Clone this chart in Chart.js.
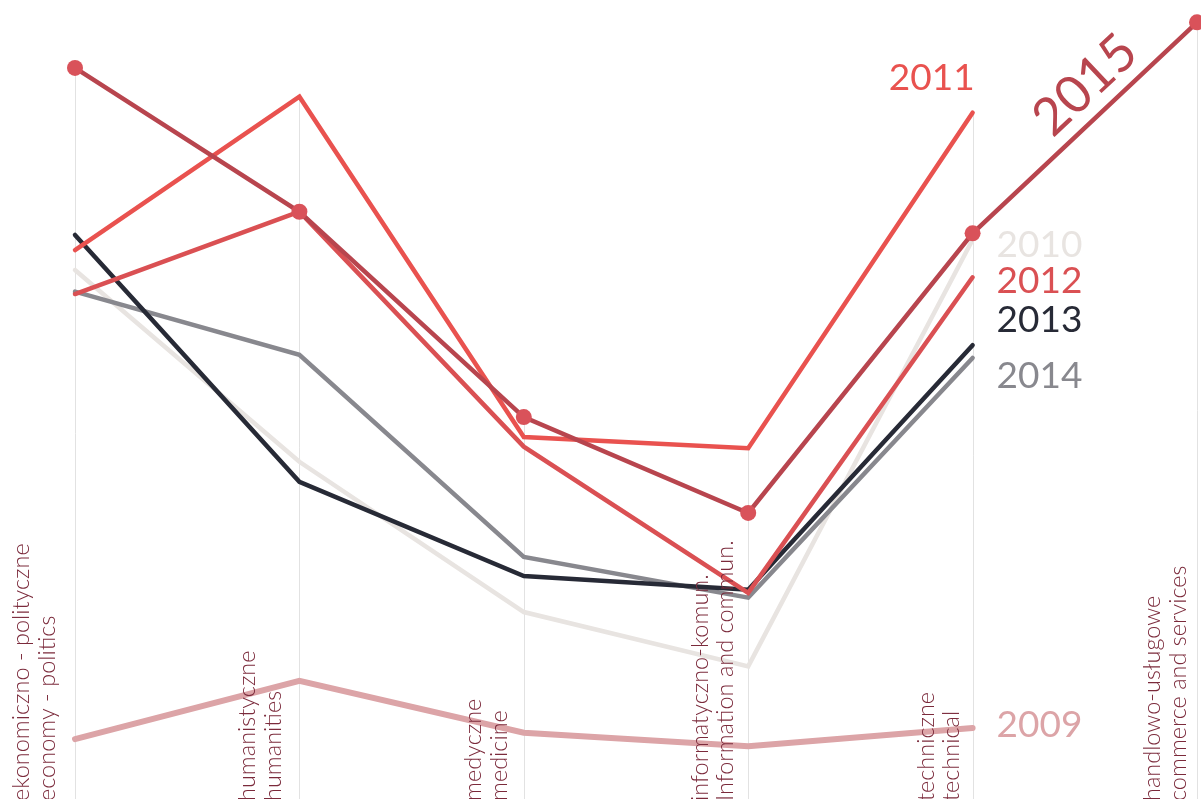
<!DOCTYPE html>
<html>
<head>
<meta charset="utf-8">
<script src="https://cdn.jsdelivr.net/npm/chart.js@4/dist/chart.umd.min.js"></script>
<style>
  html, body { margin: 0; padding: 0; background: #ffffff; overflow: hidden; }
  #wrap { width: 1201px; height: 799px; position: relative; }
</style>
</head>
<body>
<div id="wrap"><canvas id="c" width="1201" height="799"></canvas></div>
<script>
// Categories (Polish / English)
const categoriesPL = ["ekonomiczno - polityczne", "humanistyczne", "medyczne", "informatyczno-komun.", "techniczne", "handlowo-usługowe"];
const categoriesEN = ["economy - politics", "humanities", "medicine", "Information and commun.", "technical", "commerce and services"];

// Series values (relative scale 0-100)
const years = ["2015", "2011", "2012", "2013", "2014", "2010", "2009"];
const v2015 = [91.5, 73.5, 47.8, 35.8, 70.8, 97.2];
const v2011 = [68.7, 87.9, 45.3, 43.9, 85.9, null];
const v2012 = [63.2, 73.5, 44.1, 25.8, 65.3, null];
const v2013 = [70.6, 39.7, 27.9, 26.2, 56.8, null];
const v2014 = [63.5, 55.6, 30.3, 25.2, 55.2, null];
const v2010 = [66.2, 42.2, 23.4, 16.6, 70.0, null];
const v2009 = [7.5, 14.8, 8.3, 6.6, 8.9, null];

const colors = {
  "2015": "#b8454e", "2011": "#e9524f", "2012": "#da5053", "2013": "#272a36",
  "2014": "#88888e", "2010": "#e8e4e1", "2009": "#dca4a7"
};
const dotColor = "#d9525a";
const labelColor = "#7b2a3b";
const FONT = "Lato, 'Open Sans', sans-serif";

function ds(year, data, order, width) {
  return {
    label: year, data: data, order: order,
    borderColor: colors[year], borderWidth: width,
    backgroundColor: colors[year],
    pointRadius: 0, pointHoverRadius: 0,
    tension: 0, spanGaps: false, clip: false,
    borderCapStyle: 'round', borderJoinStyle: 'miter'
  };
}

const datasets = [
  Object.assign(ds("2015", v2015, 0, 4.5), { pointRadius: 8, pointBackgroundColor: dotColor, pointBorderWidth: 0 }),
  ds("2011", v2011, 1, 4.5),
  ds("2012", v2012, 2, 4.5),
  ds("2013", v2013, 3, 4.5),
  ds("2014", v2014, 4, 4.5),
  ds("2010", v2010, 5, 4.5),
  ds("2009", v2009, 6, 6)
];

// Partial gridlines: from highest point of each category down to the bottom
const gridPlugin = {
  id: 'partialGrid',
  beforeDatasetsDraw(chart) {
    const ctx = chart.ctx, x = chart.scales.x, y = chart.scales.y;
    ctx.save();
    ctx.strokeStyle = '#e2e2e2';
    ctx.lineWidth = 1;
    categoriesPL.forEach((c, i) => {
      let maxV = -Infinity;
      chart.data.datasets.forEach(d => { if (d.data[i] != null && d.data[i] > maxV) maxV = d.data[i]; });
      const px = Math.round(x.getPixelForValue(i)) + 0.5;
      ctx.beginPath();
      ctx.moveTo(px, y.getPixelForValue(maxV));
      ctx.lineTo(px, chart.height);
      ctx.stroke();
    });
    ctx.restore();
  }
};

// Rotated category labels and year labels
const labelPlugin = {
  id: 'labels',
  afterDatasetsDraw(chart) {
    const ctx = chart.ctx, x = chart.scales.x, y = chart.scales.y;
    ctx.save();
    // category labels
    ctx.fillStyle = labelColor;
    ctx.font = "300 23.5px " + FONT;
    ctx.textAlign = 'left';
    ctx.textBaseline = 'alphabetic';
    categoriesPL.forEach((c, i) => {
      const gx = x.getPixelForValue(i);
      const shift = -46 + i * 1.8;
      [[categoriesPL[i], shift], [categoriesEN[i], shift + 25.5]].forEach(([t, dx]) => {
        ctx.save();
        ctx.translate(gx + dx, chart.height + 2);
        ctx.rotate(-Math.PI / 2);
        ctx.fillText(t, 0, 0);
        ctx.restore();
      });
    });
    // year labels
    ctx.font = "400 37px " + FONT;
    const x4 = x.getPixelForValue(4);
    const yl = [
      ["2011", x4 + 2, 90, 'right'],
      ["2010", x4 + 24, 257, 'left'],
      ["2012", x4 + 24, 293, 'left'],
      ["2013", x4 + 24, 332, 'left'],
      ["2014", x4 + 24, 388, 'left'],
      ["2009", x4 + 24, 737, 'left']
    ];
    yl.forEach(([t, px, py, al]) => {
      ctx.fillStyle = colors[t];
      ctx.textAlign = al;
      ctx.fillText(t, px, py);
    });
    // 2015 along its last segment
    const p4 = { x: x4, y: y.getPixelForValue(v2015[4]) };
    const p5 = { x: x.getPixelForValue(5), y: y.getPixelForValue(v2015[5]) };
    const dx = p5.x - p4.x, dy = p5.y - p4.y;
    const len = Math.hypot(dx, dy);
    const ux = dx / len, uy = dy / len;
    const nx = uy, ny = -ux;
    const t = 0.40, off = 14;
    const bx = p4.x + dx * t + nx * off;
    const by = p4.y + dy * t + ny * off;
    ctx.save();
    ctx.translate(bx, by);
    ctx.rotate(Math.atan2(dy, dx));
    ctx.font = "400 52px " + FONT;
    ctx.fillStyle = colors["2015"];
    ctx.textAlign = 'left';
    ctx.fillText("2015", 0, 0);
    ctx.restore();
    ctx.restore();
  }
};

new Chart(document.getElementById('c'), {
  type: 'line',
  data: { labels: categoriesPL, datasets: datasets },
  options: {
    responsive: false,
    animation: false,
    devicePixelRatio: 1,
    layout: { autoPadding: false, padding: { left: 75, right: 4, top: 0, bottom: 0 } },
    plugins: { legend: { display: false }, tooltip: { enabled: false }, title: { display: false } },
    scales: {
      x: { display: false, offset: false },
      y: { display: false, min: 0, max: 100 }
    }
  },
  plugins: [gridPlugin, labelPlugin]
});
</script>
</body>
</html>
